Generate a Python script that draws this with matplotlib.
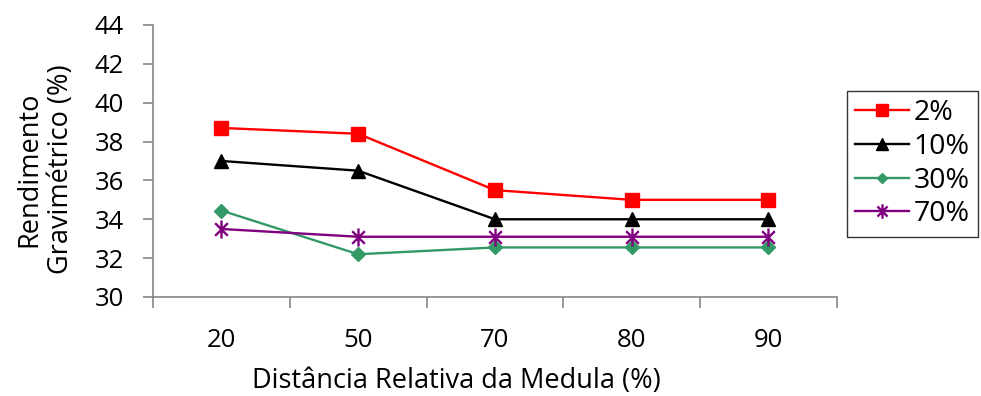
import matplotlib

matplotlib.use("Agg")
import matplotlib.pyplot as plt
from matplotlib.path import Path

# Data
categories = ["20", "50", "70", "80", "90"]
s2 = [38.7, 38.4, 35.5, 35.0, 35.0]
s10 = [37.0, 36.5, 34.0, 34.0, 34.0]
s30 = [34.45, 32.2, 32.55, 32.55, 32.55]
s70 = [33.5, 33.1, 33.1, 33.1, 33.1]
series_labels = ["2%", "10%", "30%", "70%"]

plt.rcParams["font.family"] = ["Open Sans", "DejaVu Sans"]

# Excel-style star: an X crossed by a vertical bar
star = Path(
    [(-0.7, -0.7), (0.7, 0.7), (-0.7, 0.7), (0.7, -0.7), (0, -1), (0, 1)],
    [Path.MOVETO, Path.LINETO, Path.MOVETO, Path.LINETO, Path.MOVETO, Path.LINETO],
)

fig = plt.figure(figsize=(9.81, 3.96), dpi=100)
ax = fig.add_axes([0.156, 0.25, 0.697, 0.687])

x = list(range(len(categories)))
ax.plot(x, s2, color="#ff0000", lw=1.7, marker="s", ms=10, label=series_labels[0])
ax.plot(x, s10, color="black", lw=1.7, marker="^", ms=10, label=series_labels[1])
ax.plot(x, s30, color="#339966", lw=1.7, marker="D", ms=7, label=series_labels[2])
ax.plot(x, s70, color="#800080", lw=1.7, marker=star, ms=13, mew=1.7,
        label=series_labels[3])

ax.set_xlim(-0.5, len(categories) - 0.5)
ax.set_ylim(30, 44)
ax.set_yticks(range(30, 45, 2))
ax.set_xticks(x)
ax.set_xticklabels(categories)
ax.set_xticks([i - 0.5 for i in range(len(categories) + 1)], minor=True)

gray = "#868686"
for side in ["top", "right"]:
    ax.spines[side].set_visible(False)
for side in ["left", "bottom"]:
    ax.spines[side].set_color(gray)
    ax.spines[side].set_linewidth(1.2)

ax.tick_params(axis="x", which="major", length=0, labelsize=18.5, pad=22)
ax.tick_params(axis="x", which="minor", length=8, color=gray, width=1.2, direction="out")
ax.tick_params(axis="y", length=7, color=gray, width=1.2, direction="out",
               labelsize=18.5, pad=14)

ax.set_xlabel("Distância Relativa da Medula (%)", fontsize=19.5)
ax.xaxis.label.set_va("center")
ax.xaxis.set_label_coords(0.443, -0.309)
ax.set_ylabel("Rendimento\nGravimétrico (%)", fontsize=19.5, linespacing=1.15)
ax.yaxis.label.set_va("center")
ax.yaxis.set_label_coords(-0.158, 0.47)

leg = ax.legend(loc="upper left", bbox_to_anchor=(0.863, 0.771),
                bbox_transform=fig.transFigure, fontsize=20.5, markerscale=0.8,
                frameon=True, fancybox=False, edgecolor="black", handlelength=1.9,
                handletextpad=0.15, borderpad=0.3, labelspacing=0.2, borderaxespad=0.0)
leg.get_frame().set_linewidth(1.0)

fig.savefig("out.png", dpi=100, facecolor="white")
